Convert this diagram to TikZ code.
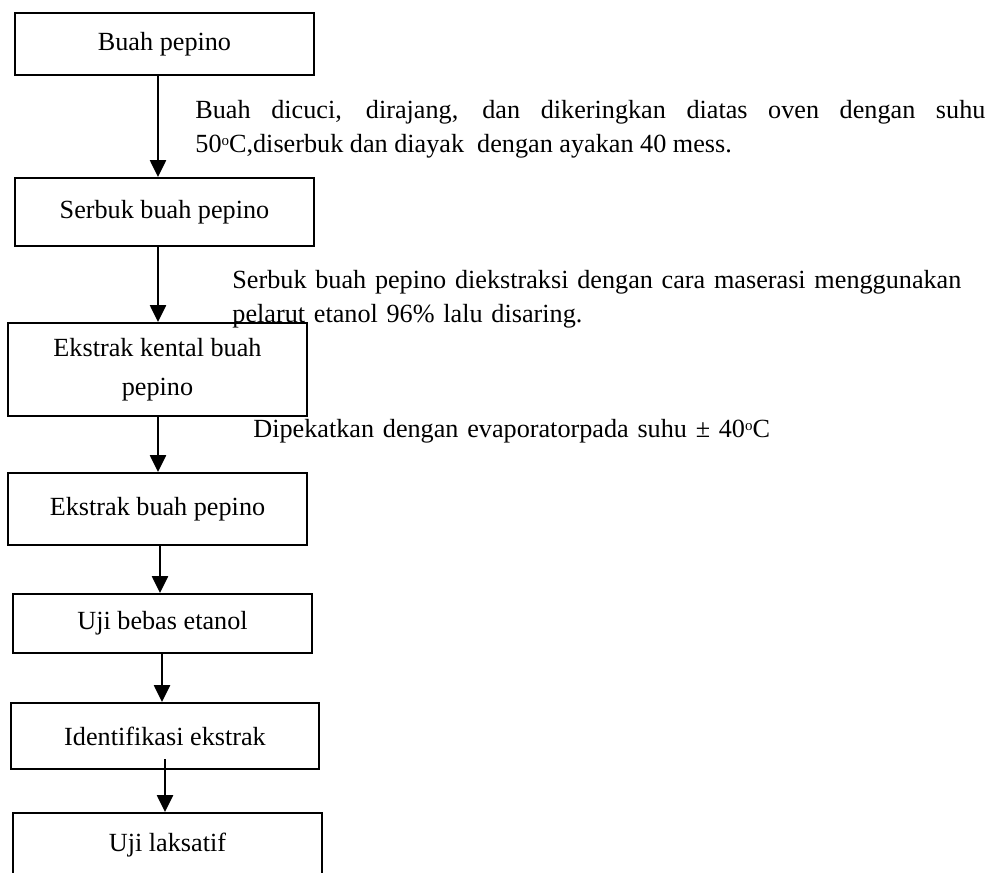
\documentclass[tikz,border=0pt]{standalone}
\usepackage{fontspec}
\setmainfont{Liberation Serif}
\usepackage{tikz}
\usetikzlibrary{shapes,arrows.meta,positioning,calc}
\newcommand{\degsup}{\raisebox{0.55ex}{\fontsize{7.5pt}{7.5pt}\selectfont o}}

\begin{document}
\begin{tikzpicture}[
    x=0.5pt, y=-0.5pt,
    every node/.style={font=\fontsize{13.1pt}{17pt}\selectfont},
    box/.style={rectangle, draw, line width=1pt, align=center, inner sep=0pt, minimum width=149.5pt},
    note/.style={anchor=base west, inner sep=0pt, text width=400pt, align=left},
    arrow/.style={-{Triangle[length=8.5pt,width=8pt]}, line width=1.3pt}
]
    \useasboundingbox (0,0) rectangle (991,873);
    \clip (0,0) rectangle (991,873);

    \node[box, minimum height=31pt] (pepino) at (164.5,44) {Buah pepino};
    \node[box, minimum height=34pt] (serbuk) at (164.5,212) {Serbuk buah pepino};
    \node[box, minimum height=46.5pt] (kental) at (157.5,369.5) {Ekstrak kental buah\\[2.5pt]pepino};
    \node[box, minimum height=36pt] (ekstrak) at (157.5,509) {Ekstrak buah pepino};
    \node[box, minimum height=29.5pt] (bebas) at (162.5,623.5) {Uji bebas etanol};
    \node[box, minimum height=33pt, minimum width=154pt] (identifikasi) at (165,736) {Identifikasi ekstrak};
    \node[box, minimum height=32pt, minimum width=154.5pt] (laksatif) at (167.5,845) {Uji laksatif};

    \node[note, text width=395pt, align=justify] (cuci) at (195,118)
        {Buah dicuci, dirajang, dan dikeringkan diatas oven dengan suhu\linebreak
         50\degsup C,diserbuk dan diayak~ dengan ayakan 40 mess.};
    \node[note] (maserasi) at (232,288)
        {Serbuk buah pepino diekstraksi dengan cara maserasi menggunakan\\
         pelarut etanol 96\% lalu disaring.};
    \node[note] (pekat) at (253,437)
        {Dipekatkan dengan evaporatorpada suhu ± 40\degsup C};

    \draw[arrow] ($(pepino.south)+(-6.5,0)$) -- ($(serbuk.north)+(-6.5,0)$);
    \draw[arrow] ($(serbuk.south)+(-6.5,0)$) -- ($(kental.north)+(0.5,0)$);
    \draw[arrow] ($(kental.south)+(0.5,0)$) -- ($(ekstrak.north)+(0.5,0)$);
    \draw[arrow] ($(ekstrak.south)+(2.5,0)$) -- ($(bebas.north)+(-2.5,0)$);
    \draw[arrow] ($(bebas.south)+(-0.5,0)$) -- ($(identifikasi.north)+(-3,0)$);
    \draw[arrow] ($(identifikasi.south)+(0,-11)$) -- ($(laksatif.north)+(-2.5,0)$);
\end{tikzpicture}
\end{document}
